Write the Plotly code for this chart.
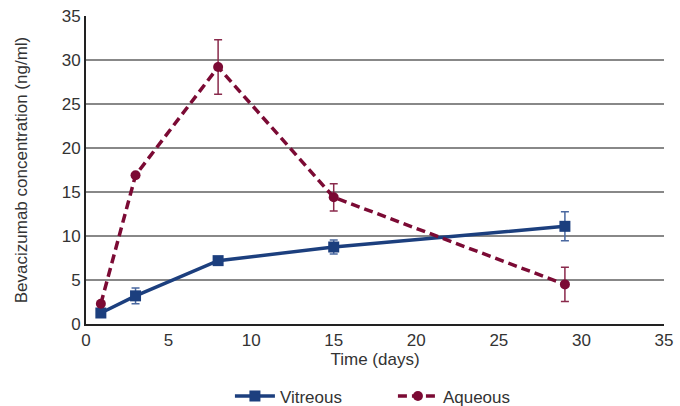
import plotly.graph_objects as go

days = [0.9, 3, 8, 15, 29]
vitreous = [1.25, 3.2, 7.2, 8.75, 11.1]
vitreous_err = [0.0, 0.9, 0.0, 0.8, 1.65]
aqueous = [2.3, 16.9, 29.2, 14.4, 4.5]
aqueous_err = [0.0, 0.0, 3.1, 1.55, 1.95]

blue = "#1c3f7e"
maroon = "#7b0a34"
font = "Liberation Sans, Arial, sans-serif"

fig = go.Figure()
fig.add_trace(go.Scatter(
    x=days, y=vitreous, name="Vitreous", mode="lines+markers",
    line=dict(color=blue, width=3.5),
    marker=dict(symbol="square", size=11, color=blue),
    error_y=dict(type="data", array=vitreous_err, color="#4a68a0", thickness=1.5, width=4),
))
fig.add_trace(go.Scatter(
    x=days, y=aqueous, name="Aqueous", mode="lines+markers",
    line=dict(color=maroon, width=3.5, dash="9px,5px"),
    marker=dict(symbol="circle", size=10, color=maroon),
    error_y=dict(type="data", array=aqueous_err, color="#8a2a4c", thickness=1.5, width=4),
))

fig.update_layout(
    width=680, height=406,
    margin=dict(l=86, r=16, t=16, b=82, autoexpand=False),
    paper_bgcolor="white", plot_bgcolor="white",
    font=dict(family=font, size=17, color="#333333"),
    showlegend=True,
    legend=dict(orientation="h", x=0.249, xanchor="left", y=-0.235, yanchor="middle",
                font=dict(size=17, color="#333333"), itemwidth=40,
                entrywidth=108, entrywidthmode="pixels"),
    xaxis=dict(range=[0, 35], dtick=5, showgrid=False, zeroline=False, automargin=False,
               showline=True, linecolor="#222222", linewidth=2,
               ticks="", title=dict(text="Time (days)", standoff=4, font=dict(size=17))),
    yaxis=dict(range=[0, 35], dtick=5, showgrid=True, gridcolor="#888888", gridwidth=1.5,
               zeroline=False, showline=True, linecolor="#222222", linewidth=2, automargin=False,
               ticks="", title=dict(text="Bevacizumab concentration (ng/ml)", standoff=30, font=dict(size=17))),
)

fig.write_html("out.html")
